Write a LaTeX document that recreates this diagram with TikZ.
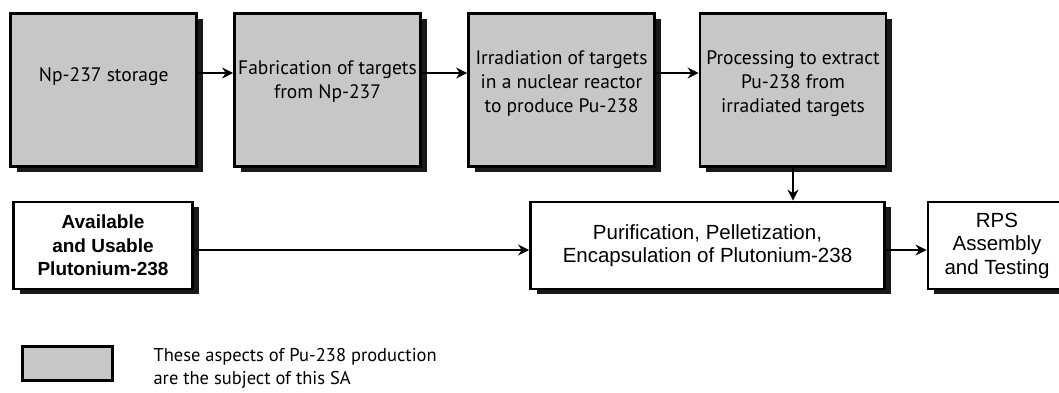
\documentclass[tikz,border=0pt]{standalone}
\usepackage{fontspec}
\setmainfont{PT Sans}
\newfontfamily\arialfont{Liberation Sans}
\usetikzlibrary{positioning,shadows,arrows.meta}

\begin{document}
\begin{tikzpicture}[x=1pt, y=-1pt,
	boxshadow/.style={drop shadow={shadow xshift=6pt, shadow yshift=-5pt, fill=black!90, opacity=1}},
	stepbox/.style={draw, line width=2.8pt, fill=black!22, minimum width=186pt, minimum height=153pt, boxshadow},
	steptext/.style={align=center, font=\fontsize{19.5}{24}\selectfont},
	pubox/.style={draw, line width=2.8pt, fill=white, minimum height=87pt, align=center, font=\arialfont\fontsize{20.5}{23.5}\selectfont, boxshadow},
	keybox/.style={draw, line width=2.8pt, fill=black!22, minimum width=90pt, minimum height=34pt},
	flow/.style={line width=2.6pt, -{Stealth[length=11pt, width=11pt]}}]
			\useasboundingbox[fill=white] (0,0) rectangle (1059,392);
			\foreach \n/\x in {store/103.75, fab/327.5, irr/561.5, proc/793}
				\node[stepbox] (\n) at (\x,90) {};
			\node[steptext] (storetxt) at (103.75,77) {Np-237 storage};
			\node[steptext] (fabtxt) at (327.5,81.5) {Fabrication of targets\\from Np-237};
			\node[steptext] (irrtxt) at (561.5,84) {Irradiation of targets\\in a nuclear reactor\\to produce Pu-238};
			\node[steptext] (proctxt) at (793,84) {Processing to extract\\Pu-238 from\\irradiated targets};

			\node[pubox, minimum width=179pt, font=\arialfont\bfseries\fontsize{19}{23.5}\selectfont] (avail) at (103,245.5) {Available\\and Usable\\Plutonium-238};
			\node[pubox, minimum width=354pt] (purif) at (707.5,245.5) {Purification, Pelletization,\\Encapsulation of Plutonium-238};
			\node[pubox, minimum width=138pt] (rps) at (997,245.5) {RPS\\Assembly\\and Testing};

			\coordinate (toprow) at (0,73);
			\coordinate (lowrow) at (0,250);
			\foreach \a/\b in {store/fab, fab/irr, irr/proc}
				\draw[flow] (\a.east |- toprow) -- (\b.west |- toprow);
			\draw[flow] (proc.south) -- (proc.south |- purif.north);
			\draw[flow] (avail.east |- lowrow) -- (purif.west |- lowrow);
			\draw[flow] (purif.east |- lowrow) -- (rps.west |- lowrow);

			\node[keybox] (key) at (67.5,363.5) {};
			\node[anchor=west, align=left, font=\fontsize{18.5}{23}\selectfont] (keytxt) at (150,368) {These aspects of Pu-238 production\\are the subject of this SA};
		\end{tikzpicture}
\end{document}
